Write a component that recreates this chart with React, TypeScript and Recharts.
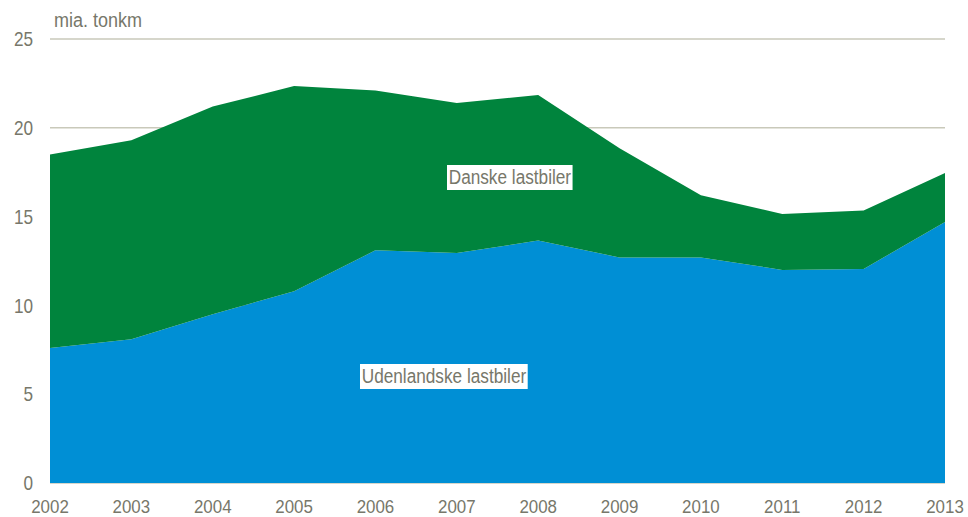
import React from "react";
import { AreaChart, Area, XAxis, YAxis, CartesianGrid } from "recharts";

const years = [2002, 2003, 2004, 2005, 2006, 2007, 2008, 2009, 2010, 2011, 2012, 2013];
const udenlandske = [7.6, 8.1, 9.5, 10.8, 13.1, 12.95, 13.65, 12.7, 12.7, 12.0, 12.05, 14.7];
const danske = [10.9, 11.2, 11.7, 11.55, 9.0, 8.45, 8.2, 6.15, 3.5, 3.15, 3.3, 2.75];
const yTicks = [0, 5, 10, 15, 20, 25];

const data = years.map((y, i) => ({ year: y, udenlandske: udenlandske[i], danske: danske[i] }));

const FONT = '"Liberation Sans", Arial, sans-serif';
const TXT = "#77776A";
const SX = 0.86;

const XTick = (props: any) => {
  const { x, y, payload } = props;
  return (
    <text
      transform={`translate(${x},${y}) scale(0.89,1)`}
      textAnchor="middle"
      dy="0.71em"
      fill={TXT}
      fontSize={19}
      fontFamily={FONT}
    >
      {payload.value}
    </text>
  );
};

const YTick = (props: any) => {
  const { x, y, payload } = props;
  return (
    <text
      transform={`translate(${x},${y}) scale(${SX},1)`}
      textAnchor="end"
      dy="0.355em"
      fill={TXT}
      fontSize={20}
      fontFamily={FONT}
    >
      {payload.value}
    </text>
  );
};

const labelStyle: React.CSSProperties = {
  position: "absolute",
  background: "#ffffff",
  color: TXT,
  fontFamily: FONT,
  fontSize: 20,
  lineHeight: "25px",
  height: 25,
  padding: "0 2px",
  whiteSpace: "nowrap",
  transform: `scaleX(${SX})`,
  transformOrigin: "0 0",
};

export default function App() {
  return (
    <div style={{ position: "absolute", left: 0, top: 0, width: 968, height: 517, background: "#fff" }}>
      <AreaChart width={968} height={517} data={data} margin={{ top: 39, right: 23, bottom: 0, left: 0 }}>
        <CartesianGrid horizontal vertical={false} stroke="#C9C9BA" strokeWidth={1.5} />
        <XAxis
          dataKey="year"
          type="number"
          domain={[2002, 2013]}
          ticks={years}
          height={34}
          axisLine={false}
          tickLine={false}
          tickSize={0}
          tickMargin={16}
          tick={<XTick />}
          interval={0}
        />
        <YAxis
          domain={[0, 25]}
          ticks={yTicks}
          width={50}
          axisLine={false}
          tickLine={false}
          tickSize={0}
          tickMargin={17}
          tick={<YTick />}
        />
        <Area type="linear" dataKey="udenlandske" stackId="a" stroke="none" fill="#008FD5" fillOpacity={1} isAnimationActive={false} />
        <Area type="linear" dataKey="danske" stackId="a" stroke="none" fill="#00843D" fillOpacity={1} isAnimationActive={false} />
      </AreaChart>
      <div style={{ position: "absolute", left: 54, top: 8, color: TXT, fontFamily: FONT, fontSize: 20, lineHeight: "24px", transform: "scaleX(0.9)", transformOrigin: "0 0", whiteSpace: "nowrap" }}>mia. tonkm</div>
      <div style={{ ...labelStyle, left: 447, top: 165 }}>Danske lastbiler</div>
      <div style={{ ...labelStyle, left: 360, top: 364 }}>Udenlandske lastbiler</div>
    </div>
  );
}
